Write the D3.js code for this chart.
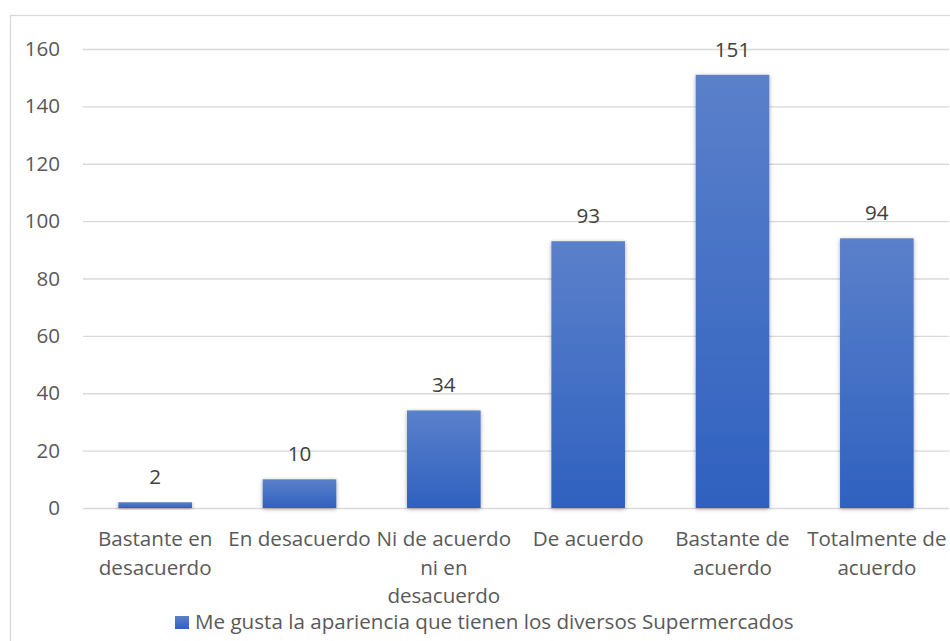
<!DOCTYPE html>
<html>
<head>
<meta charset="utf-8">
<script src="https://cdn.jsdelivr.net/npm/d3@7"></script>
<style>
  html, body { margin: 0; padding: 0; background: #fff; }
  svg { display: block; font-family: "Open Sans", "Noto Sans", sans-serif; }
</style>
</head>
<body>
<svg id="chart" width="950" height="641"></svg>
<script>
// Survey answers and how many respondents picked each one
const categories = [
  ["Bastante en", "desacuerdo"],
  ["En desacuerdo"],
  ["Ni de acuerdo", "ni en", "desacuerdo"],
  ["De acuerdo"],
  ["Bastante de", "acuerdo"],
  ["Totalmente de", "acuerdo"]
];
const values = [2, 10, 34, 93, 151, 94];
const yTicks = [0, 20, 40, 60, 80, 100, 120, 140, 160];
const seriesName = "Me gusta la apariencia que tienen los diversos Supermercados";

const svg = d3.select("#chart");
const W = 950, H = 641;
const plot = { left: 83, right: 949, top: 49, bottom: 508 };
const textColor = "#595959";
const gridColor = "#d9d9d9";
const fs = 20.6;

const defs = svg.append("defs");
const grad = defs.append("linearGradient")
  .attr("id", "barFill").attr("x1", 0).attr("y1", 0).attr("x2", 0).attr("y2", 1);
grad.append("stop").attr("offset", "0%").attr("stop-color", "#5b80ca");
grad.append("stop").attr("offset", "100%").attr("stop-color", "#2f61c0");

const shadow = defs.append("filter").attr("id", "shadow")
  .attr("x", "-20%").attr("y", "-20%").attr("width", "140%").attr("height", "140%");
shadow.append("feGaussianBlur").attr("in", "SourceAlpha").attr("stdDeviation", 2.2).attr("result", "blur");
shadow.append("feOffset").attr("in", "blur").attr("dx", 0).attr("dy", 1).attr("result", "off");
shadow.append("feComponentTransfer").attr("in", "off").attr("result", "soft")
  .append("feFuncA").attr("type", "linear").attr("slope", 0.35);
const merge = shadow.append("feMerge");
merge.append("feMergeNode").attr("in", "soft");
merge.append("feMergeNode").attr("in", "SourceGraphic");

// chart frame
svg.append("rect")
  .attr("x", 10.5).attr("y", 15.5).attr("width", W + 10).attr("height", H + 10)
  .attr("fill", "none").attr("stroke", gridColor).attr("stroke-width", 1.3);

const x = d3.scaleBand()
  .domain(d3.range(categories.length))
  .range([plot.left, plot.right])
  .paddingInner(0.49).paddingOuter(0.245);

const y = d3.scaleLinear().domain([0, 160]).range([plot.bottom, plot.top]);

// y axis: gridlines and tick labels
const yAxis = d3.axisLeft(y).tickValues(yTicks).tickSize(-(plot.right - plot.left)).tickPadding(23);
const gy = svg.append("g").attr("transform", `translate(${plot.left},0)`).call(yAxis);
gy.select(".domain").remove();
gy.selectAll(".tick line").attr("stroke", gridColor).attr("stroke-width", 1.3);
gy.selectAll(".tick text")
  .attr("fill", textColor).attr("font-size", fs)
  .attr("font-family", "Open Sans, sans-serif");

// bars
svg.append("g").selectAll("rect").data(values).join("rect")
  .attr("x", (d, i) => x(i))
  .attr("y", d => y(d))
  .attr("width", x.bandwidth())
  .attr("height", d => y(0) - y(d))
  .attr("fill", "url(#barFill)")
  .attr("filter", "url(#shadow)");

// value labels
svg.append("g").selectAll("text").data(values).join("text")
  .attr("x", (d, i) => x(i) + x.bandwidth() / 2)
  .attr("y", d => y(d) - 18)
  .attr("text-anchor", "middle")
  .attr("fill", "#404040").attr("font-size", fs)
  .text(d => d);

// category labels, wrapped onto several lines
const xl = svg.append("g").selectAll("text").data(categories).join("text")
  .attr("text-anchor", "middle")
  .attr("fill", textColor).attr("font-size", fs);
xl.each(function(lines, i) {
  const t = d3.select(this);
  lines.forEach((ln, k) => {
    t.append("tspan")
      .attr("x", x(i) + x.bandwidth() / 2)
      .attr("y", 546 + k * 28.5)
      .text(ln);
  });
});

// legend
const legend = svg.append("g");
legend.append("rect")
  .attr("x", 175).attr("y", 616).attr("width", 14).attr("height", 13)
  .attr("fill", "url(#barFill)");
legend.append("text")
  .attr("x", 195).attr("y", 628.5)
  .attr("fill", textColor).attr("font-size", fs)
  .text(seriesName);
</script>
</body>
</html>
